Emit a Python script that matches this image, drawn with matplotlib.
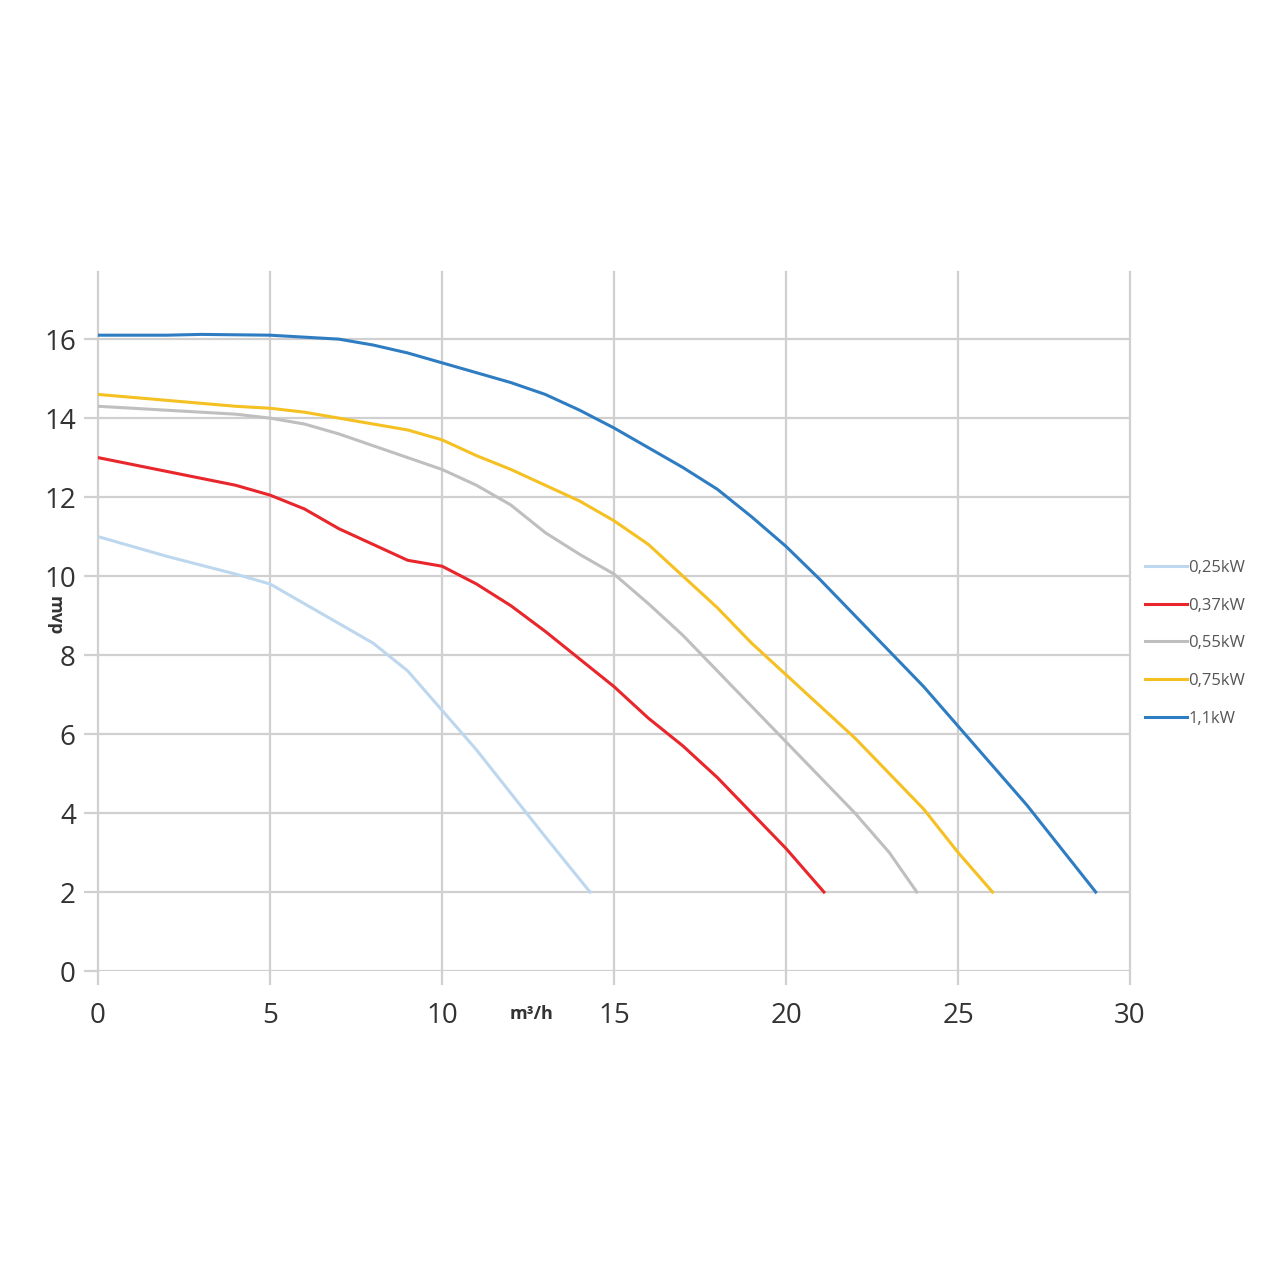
import matplotlib
matplotlib.use("Agg")
import matplotlib.pyplot as plt
from matplotlib.lines import Line2D

plt.rcParams['font.family'] = ['Open Sans', 'DejaVu Sans']

x025 = [0, 2, 4, 5, 6, 7, 8, 9, 10, 11, 12, 13, 14.3]
y025 = [11, 10.5, 10.05, 9.8, 9.3, 8.8, 8.3, 7.6, 6.6, 5.6, 4.5, 3.4, 2]
x037 = [0, 2, 4, 5, 6, 7, 8, 9, 10, 11, 12, 13, 14, 15, 16, 17, 18, 19, 20, 21.1]
y037 = [13, 12.65, 12.3, 12.05, 11.7, 11.2, 10.8, 10.4, 10.25, 9.8, 9.25, 8.6, 7.9, 7.2, 6.4, 5.7, 4.9, 4.0, 3.1, 2]
x055 = [0, 2, 4, 5, 6, 7, 8, 9, 10, 11, 12, 13, 14, 15, 16, 17, 18, 19, 20, 21, 22, 23, 23.8]
y055 = [14.3, 14.2, 14.1, 14.0, 13.85, 13.6, 13.3, 13.0, 12.7, 12.3, 11.8, 11.1, 10.55, 10.05, 9.3, 8.5, 7.6, 6.7, 5.8, 4.9, 4.0, 3.0, 2]
x075 = [0, 2, 4, 5, 6, 7, 8, 9, 10, 11, 12, 13, 14, 15, 16, 17, 18, 19, 20, 21, 22, 23, 24, 25, 26]
y075 = [14.6, 14.45, 14.3, 14.25, 14.15, 14.0, 13.85, 13.7, 13.45, 13.05, 12.7, 12.3, 11.9, 11.4, 10.8, 10.0, 9.2, 8.3, 7.5, 6.7, 5.9, 5.0, 4.1, 3.0, 2]
x11 = [0, 2, 3, 5, 6, 7, 8, 9, 10, 11, 12, 13, 14, 15, 16, 17, 18, 19, 20, 21, 22, 23, 24, 25, 26, 27, 28, 29]
y11 = [16.1, 16.1, 16.12, 16.1, 16.05, 16.0, 15.85, 15.65, 15.4, 15.15, 14.9, 14.6, 14.2, 13.75, 13.25, 12.75, 12.2, 11.5, 10.75, 9.9, 9.0, 8.1, 7.2, 6.2, 5.2, 4.2, 3.1, 2]

labels = ["0,25kW", "0,37kW", "0,55kW", "0,75kW", "1,1kW"]
colors = ["#bdd7ee", "#e8262b", "#bfbfbf", "#f5c022", "#2e7dc2"]
series = [(x025, y025), (x037, y037), (x055, y055), (x075, y075), (x11, y11)]

fig = plt.figure(figsize=(12.8, 12.8), dpi=100)
ax = fig.add_axes([0.0766, 0.2414, 0.8063, 0.5461])
ax.set_xlim(0, 30)
ax.set_ylim(0, 17.7)
ax.set_xticks(range(0, 31, 5))
ax.set_yticks(range(0, 17, 2))
gc = "#d0d0d0"
for v in range(0, 31, 5):
    ax.axvline(v, color=gc, lw=1.6, zorder=0, clip_on=False)
for v in range(2, 17, 2):
    ax.plot([0, 30], [v, v], color=gc, lw=1.6, zorder=0)
ax.axhline(0, color=gc, lw=1.6, zorder=0)
for s in ax.spines.values():
    s.set_visible(False)
ax.tick_params(axis="both", length=10, width=1.6, color=gc, labelsize=20, labelcolor="#333333", pad=6)
ax.tick_params(axis="x", pad=12)
handles = []
for (xs, ys), c, l in zip(series, colors, labels):
    ax.plot(xs, ys, color=c, lw=2.2)
    handles.append(Line2D([], [], color=c, lw=2.2, label=l))
ax.text(12.6, -1.1, "m³/h", fontsize=13, fontweight="bold", color="#333333", ha="center", va="center")
ax.text(-1.25, 9.0, "mvp", fontsize=13, fontweight="bold", color="#333333", ha="center", va="center", rotation=-90)
fig.legend(handles=handles, loc="center left", bbox_to_anchor=(0.883, 0.4975), frameon=False,
           fontsize=12, labelcolor="#555555", handlelength=2.5, handletextpad=0.1, labelspacing=1.3)
fig.savefig("out.png", dpi=100, facecolor="white")
